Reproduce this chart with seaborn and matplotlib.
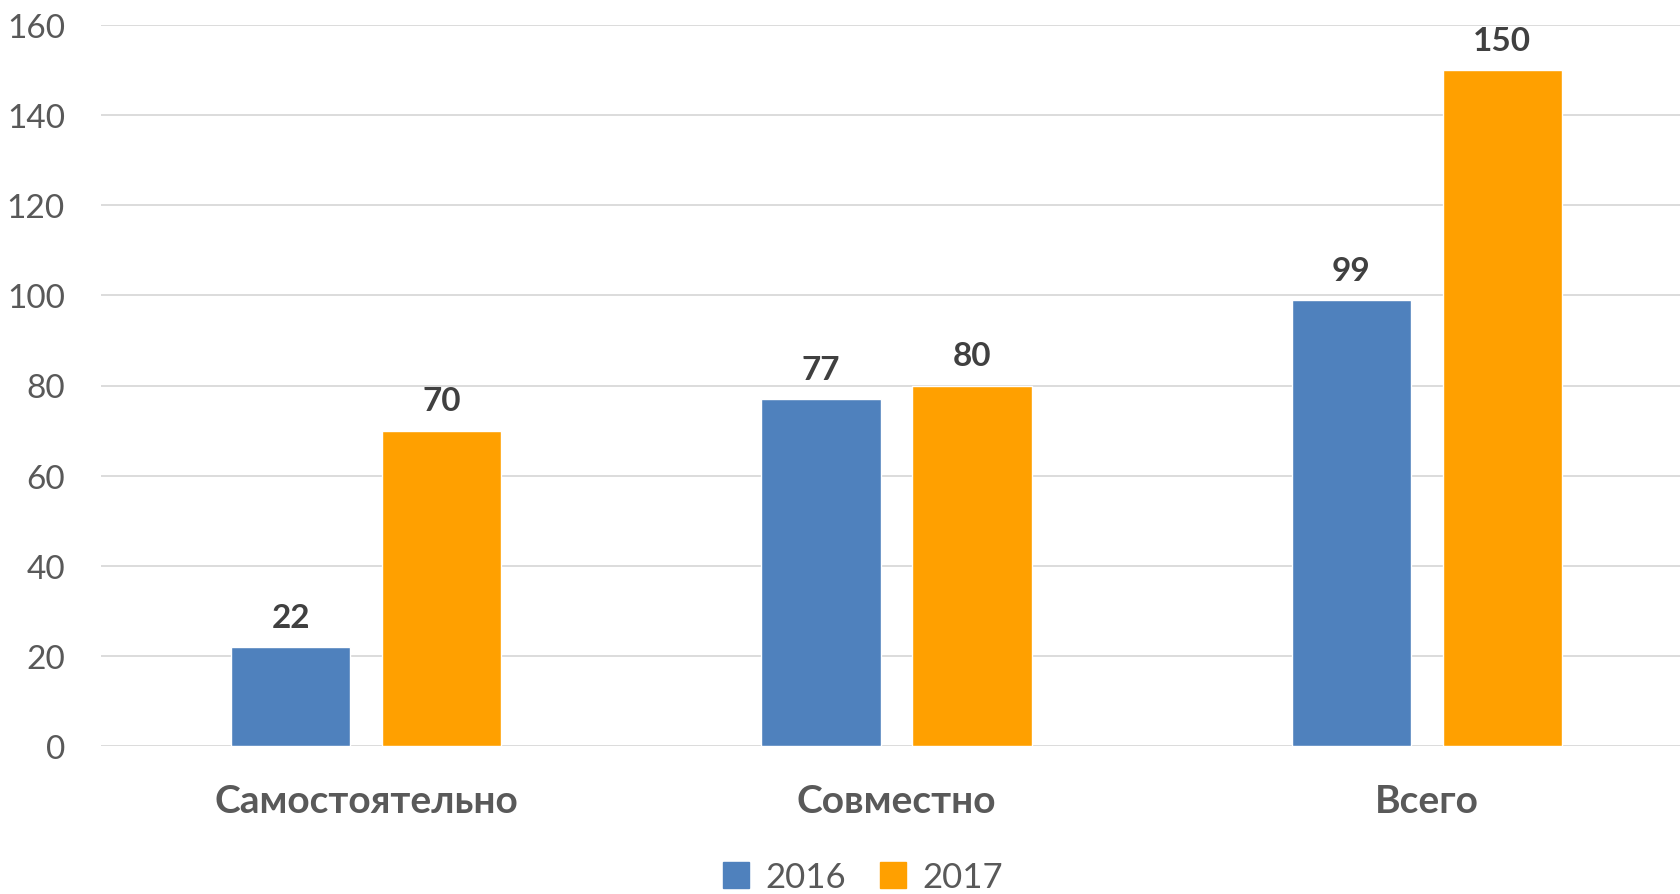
import matplotlib
matplotlib.use("Agg")
import matplotlib.pyplot as plt
import pandas as pd
import seaborn as sns

# Data
categories = ["Самостоятельно", "Совместно", "Всего"]
years = ["2016", "2017"]
values_2016 = [22, 77, 99]
values_2017 = [70, 80, 150]
y_ticks = [0, 20, 40, 60, 80, 100, 120, 140, 160]

df = pd.DataFrame({
    "Категория": categories * 2,
    "Год": [years[0]] * len(categories) + [years[1]] * len(categories),
    "Значение": values_2016 + values_2017,
})

sns.set_theme(style="white")
plt.rcParams["font.family"] = ["Lato", "Open Sans", "DejaVu Sans"]

fig = plt.figure(figsize=(16.8, 8.95), dpi=100)
# axes runs slightly past the right edge, as in the reference
ax = fig.add_axes([101 / 1680, (895 - 747) / 895, 1591 / 1680, (747 - 26) / 895])

palette = {"2016": "#4F81BD", "2017": "#FFA000"}
sns.barplot(
    data=df, x="Категория", y="Значение", hue="Год", order=categories,
    hue_order=years, palette=palette, width=0.57, gap=0.21,
    saturation=1, ax=ax, legend=True,
)

for container in ax.containers:
    ax.bar_label(container, fmt="%d", padding=11, fontsize=24,
                 fontweight="bold", color="#404040")

ax.set_ylim(0, 160)
ax.set_xlim(-0.5, 2.5)
ax.set_yticks(y_ticks)
ax.grid(axis="y", color="#D9D9D9", linewidth=1.3)
ax.set_axisbelow(True)
sns.despine(ax=ax, left=True, bottom=True)
ax.set_xlabel("")
ax.set_ylabel("")
ax.tick_params(axis="y", labelsize=24, labelcolor="#595959", length=0, pad=26)
ax.tick_params(axis="x", labelsize=28, labelcolor="#595959", length=0, pad=27)
for lbl in ax.get_xticklabels():
    lbl.set_fontweight("bold")

ax.legend_.remove()
handles = [plt.Rectangle((0, 0), 1, 1, color=palette[y]) for y in years]
fig.legend(handles, years, loc="center", bbox_to_anchor=(863 / 1680, 1 - 878 / 895),
           ncol=2, frameon=False, fontsize=25, labelcolor="#595959",
           handlelength=0.75, handleheight=0.75, handletextpad=0.45, columnspacing=1.0)

fig.savefig("out.png", dpi=100)
